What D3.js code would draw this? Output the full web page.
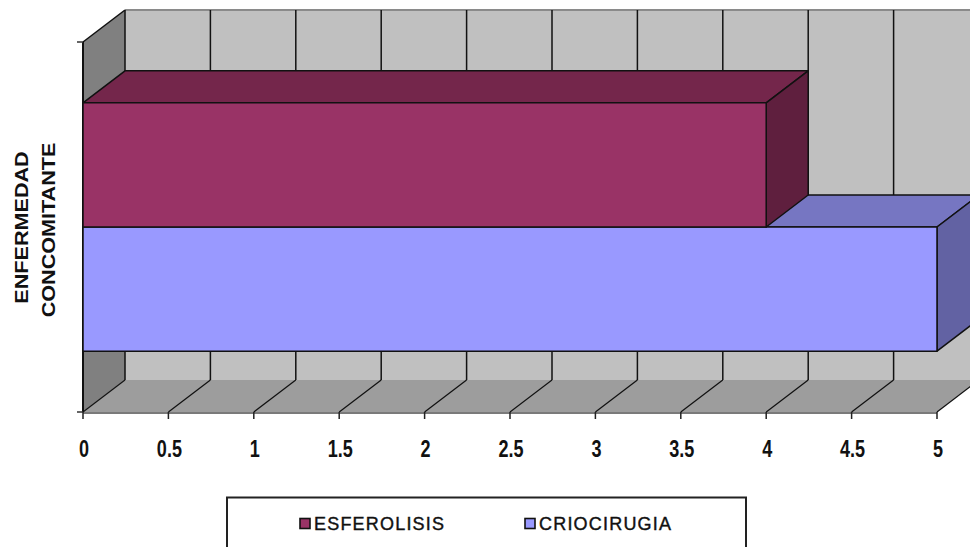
<!DOCTYPE html>
<html>
<head>
<meta charset="utf-8">
<script src="https://cdn.jsdelivr.net/npm/d3@7"></script>
<style>
  html, body { margin: 0; padding: 0; background: #fff; }
  svg { display: block; font-family: Arial, "Liberation Sans", sans-serif; }
</style>
</head>
<body>
<svg id="chart" width="970" height="547"></svg>
<script>
// Chart data
const categories = ["ENFERMEDAD CONCOMITANTE"];
const seriesNames = ["ESFEROLISIS", "CRIOCIRUGIA"];
const esferolisis = [4];
const criocirugia = [5];
const tickValues = [0, 0.5, 1, 1.5, 2, 2.5, 3, 3.5, 4, 4.5, 5];
const axisTitle = ["ENFERMEDAD", "CONCOMITANTE"];

const seriesValues = [esferolisis, criocirugia];
const colors = {
  ESFEROLISIS: { front: "#993366", top: "#74264b", side: "#5f1f3e" },
  CRIOCIRUGIA: { front: "#9999ff", top: "#7676c2", side: "#6262a3" }
};

const svg = d3.select("#chart");

// 3D projection: depth offset
const DX = 42, DY = -32;
const x = d3.scaleLinear().domain([0, 5]).range([83, 937]);
const yFrontTop = 42, yFrontBottom = 412;
const yCat = d3.scaleBand().domain(categories).range([yFrontTop, yFrontBottom]).paddingInner(0).paddingOuter(0.245);
const ySer = d3.scaleBand().domain(seriesNames).range([0, yCat.bandwidth()]).padding(0);

const poly = pts => pts.map(p => p.join(",")).join(" ");

// Back wall
const x0 = x(0), x5 = x(5);
svg.append("polygon")
  .attr("points", poly([[x0 + DX, yFrontTop + DY], [x5 + DX, yFrontTop + DY], [x5 + DX, yFrontBottom + DY], [x0 + DX, yFrontBottom + DY]]))
  .attr("fill", "#c0c0c0");
svg.append("line")
  .attr("x1", x0 + DX).attr("x2", x5 + DX)
  .attr("y1", yFrontTop + DY).attr("y2", yFrontTop + DY)
  .attr("stroke", "#8a8a8a").attr("stroke-width", 2);

// Left side wall
svg.append("polygon")
  .attr("points", poly([[x0, yFrontTop], [x0 + DX, yFrontTop + DY], [x0 + DX, yFrontBottom + DY], [x0, yFrontBottom]]))
  .attr("fill", "#808080");

// Floor
svg.append("polygon")
  .attr("points", poly([[x0, yFrontBottom], [x0 + DX, yFrontBottom + DY], [x5 + DX, yFrontBottom + DY], [x5, yFrontBottom]]))
  .attr("fill", "#9d9d9d");
svg.append("line")
  .attr("x1", x0).attr("x2", x5)
  .attr("y1", yFrontBottom + 1).attr("y2", yFrontBottom + 1)
  .attr("stroke", "#7a7a7a").attr("stroke-width", 2);

// Gridlines on back wall and floor
const grid = svg.append("g");
tickValues.forEach(v => {
  grid.append("line")
    .attr("x1", x(v) + DX).attr("x2", x(v) + DX)
    .attr("y1", yFrontTop + DY).attr("y2", yFrontBottom + DY)
    .attr("stroke", "#111").attr("stroke-width", 1.5);
  grid.append("line")
    .attr("x1", x(v)).attr("y1", yFrontBottom)
    .attr("x2", x(v) + DX).attr("y2", yFrontBottom + DY)
    .attr("stroke", "#111").attr("stroke-width", 1.2);
});

// Axis lines and ticks
svg.append("line")
  .attr("x1", x0).attr("x2", x0).attr("y1", yFrontTop).attr("y2", yFrontBottom)
  .attr("stroke", "#111").attr("stroke-width", 2);
svg.append("line")
  .attr("x1", x0).attr("y1", yFrontTop).attr("x2", x0 + DX).attr("y2", yFrontTop + DY)
  .attr("stroke", "#111").attr("stroke-width", 1.5);
[yFrontTop, yFrontBottom].forEach(yy => {
  svg.append("line").attr("x1", x0 - 6).attr("x2", x0).attr("y1", yy).attr("y2", yy)
    .attr("stroke", "#333").attr("stroke-width", 1.5);
});
tickValues.forEach(v => {
  svg.append("line").attr("x1", x(v)).attr("x2", x(v)).attr("y1", yFrontBottom).attr("y2", yFrontBottom + 7)
    .attr("stroke", "#222").attr("stroke-width", 1.5);
});

// Bars: lower series first so the upper bar's side face overlaps it
const bars = svg.append("g");
const order = seriesNames.map((n, i) => i).reverse();
categories.forEach((cat, ci) => {
  order.forEach(si => {
    const name = seriesNames[si];
    const v = seriesValues[si][ci];
    const yTop = yCat(cat) + ySer(name);
    const yBot = yTop + ySer.bandwidth();
    const xe = x(v);
    const c = colors[name];
    const g = bars.append("g").attr("stroke", "#111").attr("stroke-width", 1.5).attr("stroke-linejoin", "round");
    g.append("polygon")
      .attr("points", poly([[x0, yTop], [x0 + DX, yTop + DY], [xe + DX, yTop + DY], [xe, yTop]]))
      .attr("fill", c.top);
    g.append("polygon")
      .attr("points", poly([[xe, yTop], [xe + DX, yTop + DY], [xe + DX, yBot + DY], [xe, yBot]]))
      .attr("fill", c.side);
    g.append("rect")
      .attr("x", x0).attr("y", yTop).attr("width", xe - x0).attr("height", yBot - yTop)
      .attr("fill", c.front);
  });
});

// Tick labels
const labels = svg.append("g").attr("font-weight", "bold").attr("font-size", 19).attr("fill", "#111").attr("text-anchor", "middle");
tickValues.forEach(v => {
  labels.append("text")
    .attr("transform", `translate(${x(v) + 1},457) scale(0.95,1.25)`)
    .text(d3.format("")(v));
});

// Category axis title
const title = svg.append("g").attr("font-weight", "bold").attr("font-size", 18).attr("fill", "#111").attr("text-anchor", "middle");
title.append("text").attr("transform", "translate(28,227.5) rotate(-90) scale(1.2,1.05)").text(axisTitle[0]);
title.append("text").attr("transform", "translate(54.5,230) rotate(-90) scale(1.2,1.05)").text(axisTitle[1]);

// Legend
const legend = svg.append("g");
legend.append("rect").attr("x", 227).attr("y", 497.5).attr("width", 519).attr("height", 70)
  .attr("fill", "#fff").attr("stroke", "#222").attr("stroke-width", 2);
const legendX = [300, 525];
seriesNames.forEach((name, i) => {
  legend.append("rect").attr("x", legendX[i]).attr("y", 518.5).attr("width", 10).attr("height", 10)
    .attr("fill", colors[name].front).attr("stroke", "#111").attr("stroke-width", 1.6);
  legend.append("text").attr("x", legendX[i] + 14).attr("y", 530)
    .attr("font-size", 18).attr("letter-spacing", 1.2).attr("fill", "#111")
    .attr("stroke", "#111").attr("stroke-width", 0.4)
    .text(name);
});
</script>
</body>
</html>
